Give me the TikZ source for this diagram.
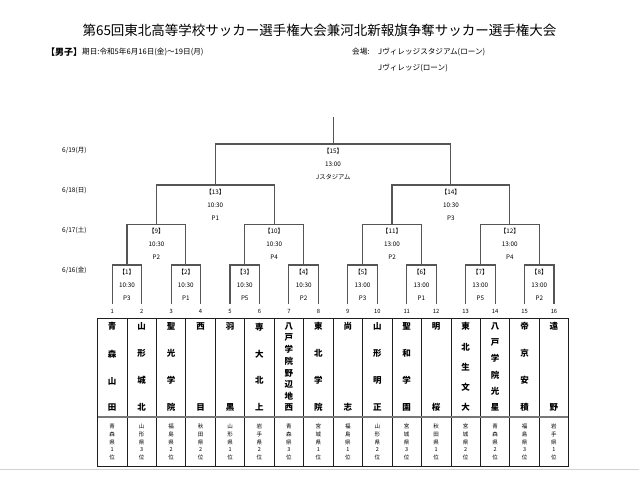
\documentclass[tikz,border=0pt]{standalone}
\usepackage{fontspec}
\setmainfont{Noto Sans CJK JP}
\usetikzlibrary{calc}
\definecolor{brc}{RGB}{85,85,85}
\definecolor{tbl}{RGB}{30,30,30}
\definecolor{sepc}{RGB}{120,120,120}
\newcommand{\vs}{\par\vfill}
\newcommand{\tname}[1]{\parbox[c][88pt][s]{14pt}{\offinterlineskip\centering #1\par}}
\newcommand{\tpref}[1]{\parbox[c][35pt][s]{10pt}{\offinterlineskip\centering #1\par}}
\begin{document}
\begin{tikzpicture}[x=1pt,y=-1pt,
  br/.style={draw=brc,line width=1.1pt},
  lbl/.style={inner sep=0pt,font=\fontsize{6.3}{7}\selectfont},
  datelbl/.style={anchor=west,inner sep=0pt,font=\fontsize{6.5}{7}\selectfont},
  numlbl/.style={inner sep=0pt,font=\fontsize{5.8}{7}\selectfont},
  teamname/.style={inner sep=0pt,font=\fontsize{8.5}{9}\selectfont\bfseries},
  preflbl/.style={inner sep=0pt,font=\fontsize{5.5}{6}\selectfont},
  hdr/.style={anchor=west,inner sep=0pt,font=\fontsize{7.6}{8}\selectfont}]
\useasboundingbox (0,0) rectangle (639,477);
\fill[white] (0,0) rectangle (639,477);
% title and header
\node[inner sep=0pt,font=\fontsize{13.5}{14}\selectfont] (title) at (319.5,30) {第65回東北高等学校サッカー選手権大会兼河北新報旗争奪サッカー選手権大会};
\node[anchor=west,inner sep=0pt,font=\fontsize{9}{10}\selectfont\bfseries] (sex) at (46,52) {【男子】};
\node[hdr] (period) at (82,52) {期日:令和5年6月16日(金)～19日(月)};
\node[hdr] (venuelbl) at (352,52) {会場:};
\node[hdr] (venue1) at (378,52) {Jヴィレッジスタジアム(ローン)};
\node[hdr] (venue2) at (378,68) {Jヴィレッジ(ローン)};
% dates
\node[datelbl] (d19) at (62,150) {6/19(月)};
\node[datelbl] (d18) at (62,190) {6/18(日)};
\node[datelbl] (d17) at (62,230) {6/17(土)};
\node[datelbl] (d16) at (62,270) {6/16(金)};
% coordinates
\foreach \i in {1,...,16} \coordinate (t\i) at ({97.5+29.45*(\i-0.5)},304);
\foreach \j in {1,...,8} \coordinate (m\j) at ({97.5+29.45*(2*\j-1)},265);
\foreach \k in {1,...,4} {\pgfmathtruncatemacro\j{8+\k}\coordinate (m\j) at ({97.5+29.45*(4*\k-2)},224.5);}
\coordinate (m13) at ({97.5+29.45*4},185);
\coordinate (m14) at ({97.5+29.45*12},185);
\coordinate (m15) at ({97.5+29.45*8},144);
\coordinate (top) at ({97.5+29.45*8},117);
% bracket
\foreach \j in {1,...,8} {\pgfmathtruncatemacro\a{2*\j-1}\pgfmathtruncatemacro\b{2*\j}
  \draw[br] (t\a) |- (m\j) -| (t\b);}
\foreach \k in {1,...,4} {\pgfmathtruncatemacro\j{8+\k}\pgfmathtruncatemacro\a{2*\k-1}\pgfmathtruncatemacro\b{2*\k}
  \draw[br] (m\a) |- (m\j) -| (m\b);}
\draw[br] (m9) |- (m13) -| (m10);
\draw[br] (m11) |- (m14) -| (m12);
\draw[br] (m13) |- (m15) -| (m14);
\draw[br] (m15) -- (top);
% match labels
\foreach \i/\t/\p in {1/10:30/P3,2/10:30/P1,3/10:30/P5,4/10:30/P2,5/13:00/P3,6/13:00/P1,7/13:00/P5,8/13:00/P2,
  9/10:30/P2,10/10:30/P4,11/13:00/P2,12/13:00/P4,13/10:30/P1,14/10:30/P3,15/13:00/Jスタジアム} {
  \node[lbl] (lb\i) at ($(m\i)+(0,7)$) {【\i】};
  \node[lbl] (lt\i) at ($(m\i)+(0,20)$) {\t};
  \node[lbl] (lp\i) at ($(m\i)+(0,33)$) {\p};
}
% team numbers
\foreach \i in {1,...,16} \node[numlbl] (n\i) at ({97.5+29.45*(\i-0.5)},311) {\i};
% table
\foreach \i in {1,...,15} \draw[tbl,line width=0.8pt] ({97.5+29.45*\i},318) -- ({97.5+29.45*\i},466.5);
\draw[sepc,line width=1.5pt] (97.5,417) -- (568.7,417);
\draw[tbl,line width=0.9pt] (97.5,318) rectangle (568.7,466.5);
\draw[gray!35,line width=0.8pt] (0,469) -- (639,469);
% team names
\foreach \i/\nm/\pf in {
  1/{青\vs 森\vs 山\vs 田}/{青\vs 森\vs 県\vs 1\vs 位},
  2/{山\vs 形\vs 城\vs 北}/{山\vs 形\vs 県\vs 3\vs 位},
  3/{聖\vs 光\vs 学\vs 院}/{福\vs 島\vs 県\vs 2\vs 位},
  4/{西\vs 目}/{秋\vs 田\vs 県\vs 2\vs 位},
  5/{羽\vs 黒}/{山\vs 形\vs 県\vs 1\vs 位},
  6/{専\vs 大\vs 北\vs 上}/{岩\vs 手\vs 県\vs 2\vs 位},
  7/{八\vs 戸\vs 学\vs 院\vs 野\vs 辺\vs 地\vs 西}/{青\vs 森\vs 県\vs 3\vs 位},
  8/{東\vs 北\vs 学\vs 院}/{宮\vs 城\vs 県\vs 1\vs 位},
  9/{尚\vs 志}/{福\vs 島\vs 県\vs 1\vs 位},
  10/{山\vs 形\vs 明\vs 正}/{山\vs 形\vs 県\vs 2\vs 位},
  11/{聖\vs 和\vs 学\vs 園}/{宮\vs 城\vs 県\vs 3\vs 位},
  12/{明\vs 桜}/{秋\vs 田\vs 県\vs 1\vs 位},
  13/{東\vs 北\vs 生\vs 文\vs 大}/{宮\vs 城\vs 県\vs 2\vs 位},
  14/{八\vs 戸\vs 学\vs 院\vs 光\vs 星}/{青\vs 森\vs 県\vs 2\vs 位},
  15/{帝\vs 京\vs 安\vs 積}/{福\vs 島\vs 県\vs 3\vs 位},
  16/{遠\vs 野}/{岩\vs 手\vs 県\vs 1\vs 位}} {
  \node[teamname] (team\i) at ({97.5+29.45*(\i-0.5)},367) {\tname{\nm}};
  \node[preflbl] (pref\i) at ({97.5+29.45*(\i-0.5)},442) {\tpref{\pf}};
}
\end{tikzpicture}
\end{document}
